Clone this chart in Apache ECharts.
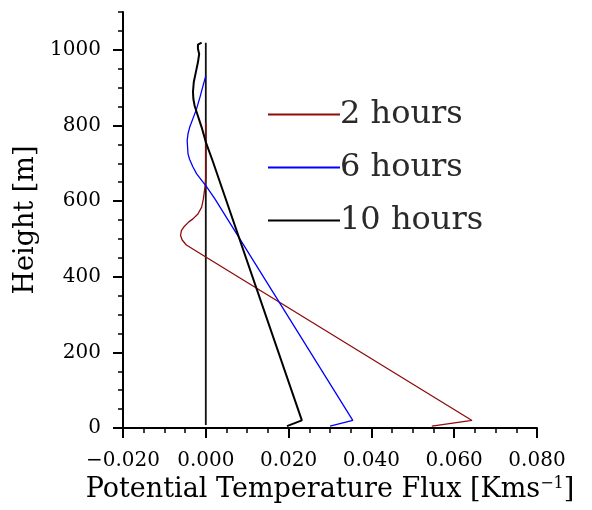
<!DOCTYPE html>
<html>
<head>
<meta charset="utf-8">
<script src="https://cdn.jsdelivr.net/npm/echarts@6/dist/echarts.min.js"></script>
<style>
  html, body { margin: 0; padding: 0; background: #fff; }
  #chart { width: 592px; height: 510px; }
</style>
</head>
<body>
<div id="chart"></div>
<script>
// Vertical profiles of potential temperature flux (K m/s) against height (m)
const seriesNames = ['2 hours', '6 hours', '10 hours'];

const flux2h   = [0.0546, 0.0643, 0.0000, -0.0047, -0.0057, -0.0061, -0.0059, -0.0052, -0.0041, -0.0031, -0.0019, -0.0010, -0.0006, -0.0002, 0.0000, 0.0000];
const height2h = [5, 20, 452, 484, 497, 509, 522, 533, 545, 553, 566, 584, 605, 637, 665, 808];

const flux6h   = [0.0300, 0.0355, 0.0022, 0.0000, -0.0010, -0.0022, -0.0031, -0.0039, -0.0043, -0.0045, -0.0043, -0.0039, -0.0027, -0.0022, -0.0013, -0.0006, 0.0000];
const height6h = [5, 20, 606, 641, 655, 672, 690, 710, 725, 760, 778, 795, 830, 845, 879, 908, 931];

const flux10h   = [0.0196, 0.0232, 0.0016, 0.0000, -0.0010, -0.0022, -0.0027, -0.0030, -0.0031, -0.0029, -0.0024, -0.0019, -0.0016, -0.0019, -0.0019, -0.0010];
const height10h = [5, 20, 708, 756, 795, 835, 852, 870, 889, 915, 941, 967, 989, 1003, 1014, 1019];

// zero-flux reference line
const zeroFlux   = [0, 0];
const zeroHeight = [8, 1019];

const yTicks = [0, 200, 400, 600, 800, 1000];
const yMinorTicks = [0, 50, 100, 150, 200, 250, 300, 350, 400, 450, 500, 550, 600, 650, 700, 750, 800, 850, 900, 950, 1000, 1050, 1100];

const pairs = (xs, ys) => xs.map((x, i) => [x, ys[i]]);

const serifFont = '"DejaVu Serif", serif';
const chart = echarts.init(document.getElementById('chart'), null, { renderer: 'canvas' });

chart.setOption({
  animation: false,
  backgroundColor: '#ffffff',
  grid: { left: 123, right: 55, top: 12, bottom: 82, containLabel: false },
  legend: {
    data: seriesNames,
    orient: 'vertical',
    left: 268,
    top: 98,
    padding: 0,
    itemWidth: 72,
    itemHeight: 2,
    itemGap: 20,
    icon: 'rect',
    textStyle: { fontFamily: serifFont, fontSize: 32, color: '#2a2a2a', lineHeight: 33, padding: [0, 0, 0, -5] }
  },
  xAxis: [{
    type: 'value',
    min: -0.02,
    max: 0.08,
    interval: 0.02,
    name: 'Potential Temperature Flux [Kms{sup|−1}]',
    nameLocation: 'middle',
    nameGap: 48,
    nameTextStyle: {
      fontFamily: serifFont, fontSize: 27, color: '#000', verticalAlign: 'top',
      rich: { sup: { fontFamily: serifFont, fontSize: 16, verticalAlign: 'top', padding: [0, 0, 12, 0] } }
    },
    axisLine: { show: true, onZero: false, lineStyle: { color: '#000', width: 2 } },
    axisTick: { show: true, length: 10, lineStyle: { color: '#000', width: 2 } },
    minorTick: { show: true, splitNumber: 4, length: 5, lineStyle: { color: '#000', width: 1.5 } },
    splitLine: { show: false },
    minorSplitLine: { show: false },
    axisLabel: {
      margin: 23,
      fontFamily: serifFont, fontSize: 20, color: '#000',
      formatter: v => (v < 0 ? '−' : '') + Math.abs(v).toFixed(3)
    }
  }],
  yAxis: [{
    type: 'value',
    position: 'left',
    min: 0,
    max: 1100,
    interval: 200,
    name: 'Height [m]',
    nameLocation: 'middle',
    nameGap: 78,
    nameTextStyle: { fontFamily: serifFont, fontSize: 27, color: '#000' },
    axisLine: { show: true, onZero: false, lineStyle: { color: '#000', width: 2 } },
    axisTick: { show: true, length: 10, customValues: yTicks, lineStyle: { color: '#000', width: 2 } },
    splitLine: { show: false },
    axisLabel: {
      margin: 22, customValues: yTicks,
      fontFamily: serifFont, fontSize: 20, color: '#000',
      formatter: v => String(v)
    }
  }, {
    type: 'value',
    position: 'left',
    offset: 0,
    min: 0,
    max: 1100,
    interval: 50,
    axisLine: { show: false, onZero: false },
    axisTick: { show: true, length: 5, customValues: yMinorTicks, lineStyle: { color: '#000', width: 1.5 } },
    splitLine: { show: false },
    axisLabel: { show: false }
  }],
  series: [{
    name: seriesNames[0],
    type: 'line',
    data: pairs(flux2h, height2h),
    showSymbol: false, symbol: 'none',
    lineStyle: { color: '#8e0c0c', width: 1.3 },
    itemStyle: { color: '#8e0c0c' },
    z: 3
  }, {
    name: seriesNames[1],
    type: 'line',
    data: pairs(flux6h, height6h),
    showSymbol: false, symbol: 'none',
    lineStyle: { color: '#0000ff', width: 1.3 },
    itemStyle: { color: '#0000ff' },
    z: 3
  }, {
    name: seriesNames[2],
    type: 'line',
    data: pairs(flux10h, height10h),
    showSymbol: false, symbol: 'none',
    lineStyle: { color: '#000000', width: 2 },
    itemStyle: { color: '#000000' },
    z: 4
  }, {
    name: 'zero',
    type: 'line',
    data: pairs(zeroFlux, zeroHeight),
    showSymbol: false, symbol: 'none',
    lineStyle: { color: '#111', width: 1.8 },
    z: 2
  }]
});
</script>
</body>
</html>
